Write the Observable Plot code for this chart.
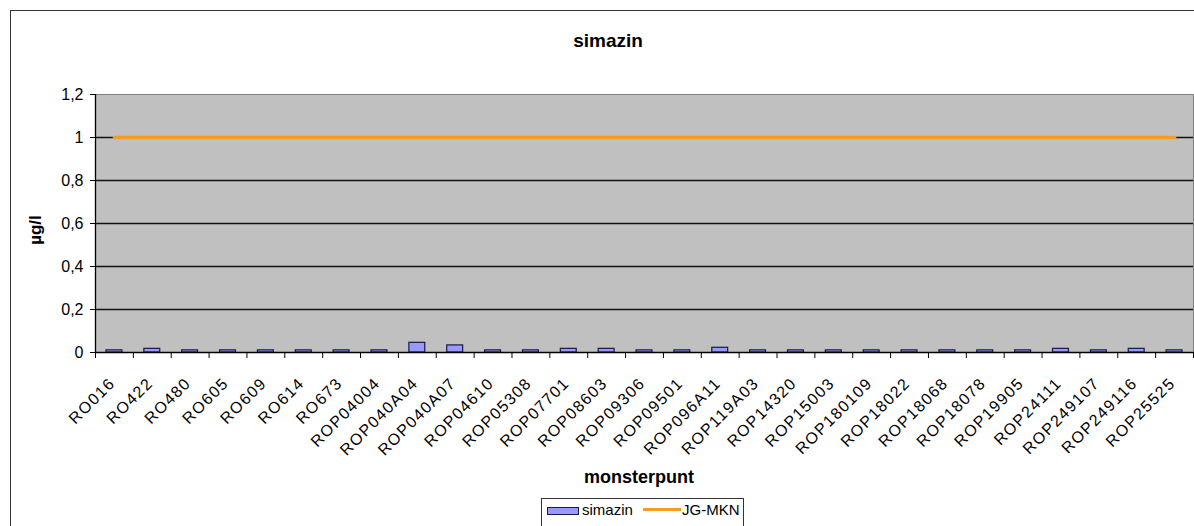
<!DOCTYPE html>
<html><head><meta charset="utf-8">
<script src="https://cdn.jsdelivr.net/npm/d3@7"></script>
<script src="https://cdn.jsdelivr.net/npm/@observablehq/plot@0.6"></script>
<style>
body{margin:0;background:#fff;font-family:"Liberation Sans",Arial,sans-serif;color:#000;}
#wrap{position:relative;width:1194px;height:526px;overflow:hidden;background:#fff;}
#border{position:absolute;left:10px;top:10px;width:1200px;height:600px;border:1px solid #333;box-sizing:border-box;}
#title{position:absolute;top:31px;left:0;width:1216px;text-align:center;font-weight:bold;font-size:19px;line-height:19px;}
#xtitle{position:absolute;top:468px;left:0;width:1278px;text-align:center;font-weight:bold;font-size:18px;line-height:18px;}
#ytitle{position:absolute;left:35px;top:230px;transform:translate(-50%,-50%) rotate(-90deg);font-weight:bold;font-size:17px;line-height:17px;white-space:nowrap;}
#chart{position:absolute;left:0;top:0;}
#chart g[aria-label="text"] text{letter-spacing:1.4px;}
#legend{position:absolute;left:541px;top:498px;width:203px;height:34px;border:1px solid #333;box-sizing:border-box;background:#fff;font-size:15px;}
#legend .sw{position:absolute;left:5px;top:8px;width:30px;height:6px;background:#9999ff;border:1px solid #1a1a40;}
#legend .ln{position:absolute;left:101px;top:9px;width:38px;height:3px;background:#f39c26;}
#legend .t1{position:absolute;left:40px;top:2px;line-height:17px;}
#legend .t2{position:absolute;left:140px;top:2px;line-height:17px;}
</style>
</head>
<body>
<div id="wrap">
  <div id="border"></div>
  <div id="title">simazin</div>
  <div id="ytitle">µg/l</div>
  <div id="chart"></div>
  <div id="xtitle">monsterpunt</div>
  <div id="legend"><div class="sw"></div><span class="t1">simazin</span><div class="ln"></div><span class="t2">JG-MKN</span></div>
</div>
<script>
const categories = ["RO016","RO422","RO480","RO605","RO609","RO614","RO673","ROP04004","ROP040A04","ROP040A07","ROP04610","ROP05308","ROP07701","ROP08603","ROP09306","ROP09501","ROP096A11","ROP119A03","ROP14320","ROP15003","ROP180109","ROP18022","ROP18068","ROP18078","ROP19905","ROP24111","ROP249107","ROP249116","ROP25525"];
const simazinValues = [0.01,0.017,0.01,0.01,0.01,0.01,0.01,0.01,0.045,0.033,0.01,0.01,0.017,0.017,0.01,0.01,0.022,0.01,0.01,0.01,0.01,0.01,0.01,0.01,0.01,0.017,0.01,0.017,0.01];
const jgMknValues = [1,1,1,1,1,1,1,1,1,1,1,1,1,1,1,1,1,1,1,1,1,1,1,1,1,1,1,1,1];
const yTicks = [0,0.2,0.4,0.6,0.8,1,1.2];
const yTickLabels = ["0","0,2","0,4","0,6","0,8","1","1,2"];

const data = categories.map((name, i) => ({i, name, simazin: simazinValues[i], jg: jgMknValues[i]}));
const boundaries = categories.map((_, i) => i - 0.5).concat([categories.length - 0.5]);

const chart = Plot.plot({
  width: 1194,
  height: 470,
  marginLeft: 95,
  marginRight: 1,
  marginTop: 94,
  marginBottom: 118,
  style: {background: "transparent", fontFamily: "'Liberation Sans', Arial, sans-serif", fontSize: "16px", color: "#000"},
  x: {domain: [-0.5, categories.length - 0.5], axis: null},
  y: {domain: [0, 1.2], axis: null},
  marks: [
    Plot.frame({fill: "#c0c0c0", stroke: "#808080"}),
    Plot.ruleY(yTicks.filter(v => v > 0 && v < 1.2), {stroke: "#111", strokeWidth: 1.3}),
    Plot.rectY(data, {x1: d => d.i - 0.21, x2: d => d.i + 0.21, y1: 0, y2: "simazin", fill: "#9999ff", stroke: "#1a1a40", strokeWidth: 1.2}),
    Plot.lineY(data, {x: "i", y: "jg", stroke: "#f39c26", strokeWidth: 3.5}),
    Plot.ruleY([0], {stroke: "#000", strokeWidth: 1.3}),
    Plot.ruleX([-0.5], {stroke: "#000", strokeWidth: 1.3}),
    Plot.axisY({ticks: yTicks, tickFormat: (d, k) => yTickLabels[k], tickSize: 5, tickPadding: 7, fontSize: 16, label: null, stroke: "#000"}),
    Plot.axisX({ticks: boundaries, tickFormat: () => "", tickSize: 6, label: null, stroke: "#000"}),
    Plot.text(data, {x: "i", text: "name", frameAnchor: "bottom", rotate: -45, textAnchor: "end", lineAnchor: "middle", dy: 28, dx: -2, fontSize: 16, fill: "#000"})
  ]
});
document.getElementById("chart").appendChild(chart);
</script>
</body></html>
